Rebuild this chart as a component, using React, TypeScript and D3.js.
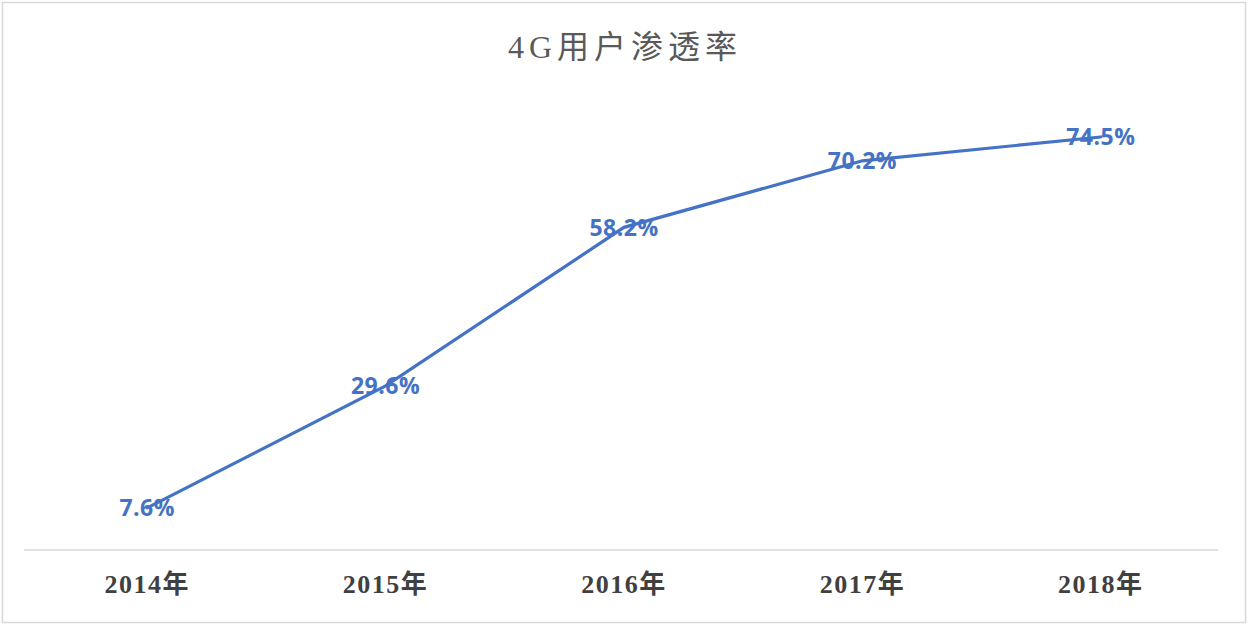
import * as d3 from "d3";
import {useEffect, useRef} from "react";

const years = ["2014年", "2015年", "2016年", "2017年", "2018年"];
const penetration = [7.6, 29.6, 58.2, 70.2, 74.5];
const title = "4G用户渗透率";

const W = 1248;
const H = 625;

const PenetrationChart = () => {
    const svgRef = useRef(null);

    useEffect(() => {
        if (!svgRef.current) return;
        const svg = d3.select(svgRef.current);
        svg.selectAll("*").remove();

        const margin = {top: 106, right: 28, bottom: 75, left: 28};
        const x = d3.scaleBand<string>()
            .domain(years)
            .range([margin.left, W - margin.right]);
        const y = d3.scaleLinear()
            .domain([0, 80])
            .range([H - margin.bottom, H - margin.bottom - 80 * 5.544]);

        // chart border
        svg.append("rect")
            .attr("x", 2.5).attr("y", 2.5)
            .attr("width", W - 5).attr("height", H - 5)
            .attr("fill", "#fff")
            .attr("stroke", "#d9d9d9")
            .attr("stroke-width", 1.5);

        // title
        svg.append("text")
            .attr("x", 625)
            .attr("y", 58)
            .attr("text-anchor", "middle")
            .attr("font-family", "'Liberation Serif', 'Noto Sans CJK SC', serif")
            .attr("font-size", 32)
            .attr("letter-spacing", 5)
            .attr("fill", "#595959")
            .text(title);

        // category axis
        const axis = svg.append("g")
            .attr("transform", `translate(0,${y(0)})`)
            .call(d3.axisBottom(x).tickSize(0).tickPadding(24));
        axis.select(".domain")
            .attr("stroke", "#d9d9d9")
            .attr("stroke-width", 1.5)
            .attr("d", `M${margin.left - 4},0H${W - margin.right - 2}`);
        axis.selectAll("text")
            .attr("font-family", "'Liberation Serif', 'Noto Sans CJK SC', serif")
            .attr("font-weight", "bold")
            .attr("font-size", 26)
            .attr("letter-spacing", 1.5)
            .attr("fill", "#404040")
            .attr("dy", "0.72em");

        const cx = (d: string) => (x(d) as number) + x.bandwidth() / 2;
        const pts = years.map((yr, i) => ({yr, v: penetration[i]}));

        const line = d3.line<{yr: string; v: number}>()
            .x(d => cx(d.yr))
            .y(d => y(d.v))
            .curve(d3.curveLinear);

        svg.append("path")
            .datum(pts)
            .attr("fill", "none")
            .attr("stroke", "#4472C4")
            .attr("stroke-width", 3.2)
            .attr("stroke-linecap", "round")
            .attr("d", line);

        svg.selectAll(".lbl")
            .data(pts)
            .enter()
            .append("text")
            .attr("class", "lbl")
            .attr("x", d => cx(d.yr))
            .attr("y", d => y(d.v))
            .attr("dy", "0.36em")
            .attr("text-anchor", "middle")
            .attr("font-family", "'Open Sans', sans-serif")
            .attr("font-weight", "bold")
            .attr("font-size", 23)
            .attr("letter-spacing", 0.5)
            .attr("fill", "#4472C4")
            .text(d => `${d.v.toFixed(1)}%`);
    }, []);

    return <svg ref={svgRef} width={W} height={H}
                style={{position: "absolute", left: 0, top: 0, display: "block"}}/>;
};

export default function App() {
    return <PenetrationChart/>;
}
